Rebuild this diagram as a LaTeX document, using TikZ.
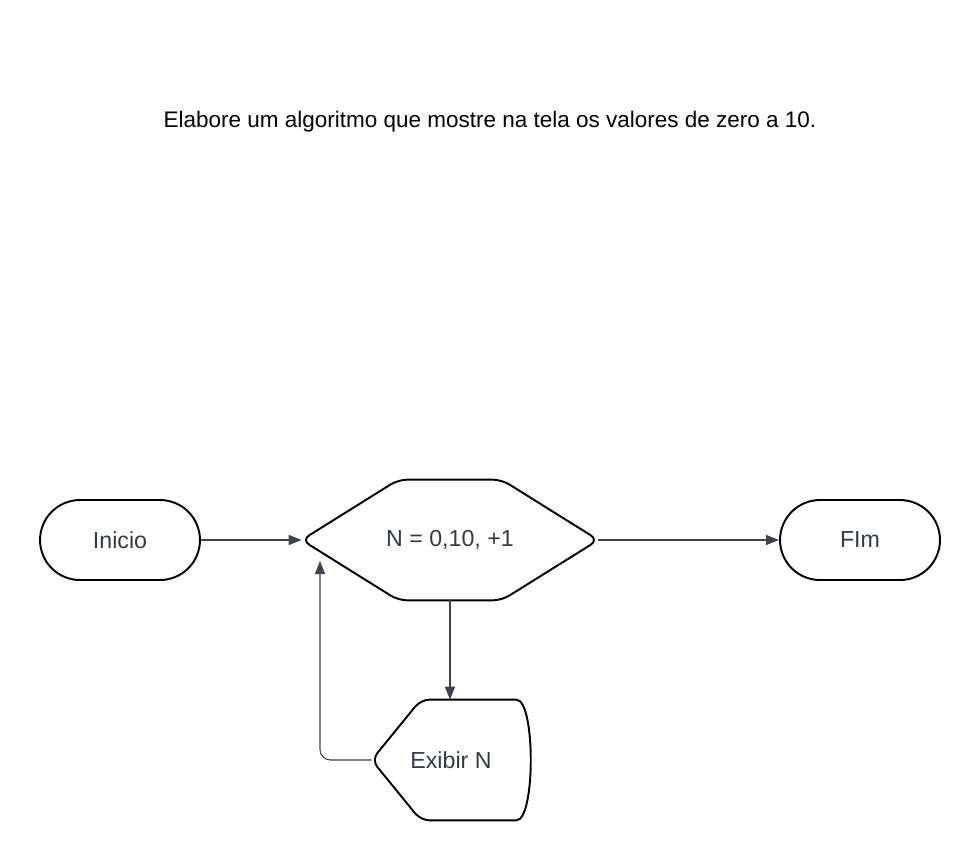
\documentclass[tikz,border=0pt]{standalone}
\usepackage{fontspec}
\setmainfont{Liberation Sans}
\usetikzlibrary{arrows.meta,positioning}
\definecolor{linegray}{RGB}{62,67,78}
\definecolor{textgray}{RGB}{52,58,68}
\begin{document}
\begin{tikzpicture}[
  x = 0.02cm, y = -0.02cm,
  border/.style={draw=black, line width=1.1pt},
  terminal/.style={border, rounded corners=0.8cm, minimum width=3.2cm, minimum height=1.6cm, text=textgray},
  box/.style={minimum width=#1, minimum height=2.4cm, text=textgray},
  flow/.style={draw=linegray, line width=0.6pt, -{Triangle[length=0.26cm, width=0.2cm]}},
  every node/.style={font=\fontsize{13.2}{16}\selectfont}
]
%general params
\def\tip{55} %hexagon point
\def\rad{5pt}

%page
\useasboundingbox (0,0) rectangle (980,860);

%title
\node[font=\fontsize{12.8}{15}\selectfont] (title) at (490,122) {Elabore um algoritmo que mostre na tela os valores de zero a 10.};

%shapes
\node[terminal] (ini) at (120,540) {Inicio};
\node[box=5.92cm] (cond) at (450,540) {N = 0,10, +1};
\node[terminal] (fim) at (860,540) {FIm};
\node[box=3.16cm] (exib) at (451,760) {Exibir N};

\draw[border, rounded corners=\rad] (cond.west) -- ([xshift=\tip]cond.north west) -- ([xshift=-\tip]cond.north east)
  -- (cond.east) -- ([xshift=-\tip]cond.south east) -- ([xshift=\tip]cond.south west) -- cycle;
\draw[border, rounded corners=\rad] (exib.west) -- ([xshift=28]exib.north west) -- ([xshift=-13]exib.north east)
  .. controls ([xshift=3]exib.north east) and ([xshift=3]exib.south east) .. ([xshift=-13]exib.south east)
  -- ([xshift=28]exib.south west) -- cycle;

%arrows
\coordinate (back) at (320,561);
\draw[flow] (ini.east) -- (cond.west);
\draw[flow] (cond.east) -- (fim.west);
\draw[flow] (cond.south) -- (cond.south |- exib.north);
\draw[flow, rounded corners=6pt] (exib.west) -| (back);

\end{tikzpicture}
\end{document}
